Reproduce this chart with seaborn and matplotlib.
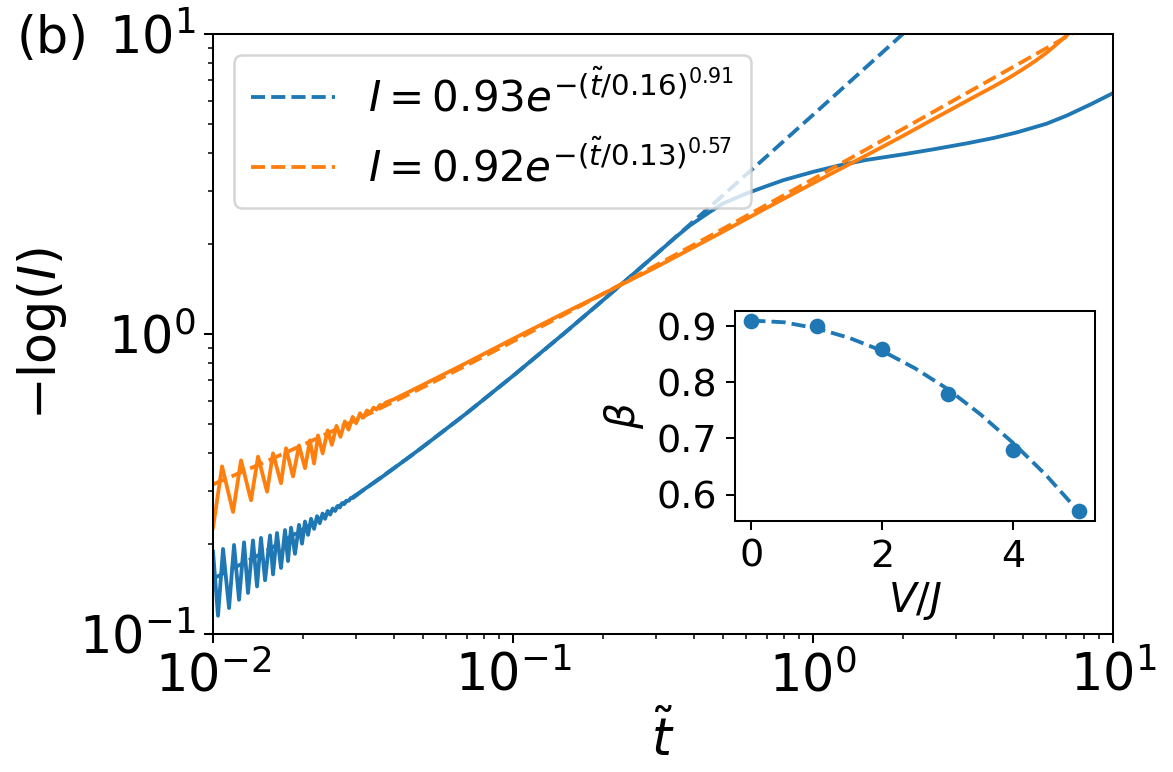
import matplotlib
matplotlib.use("Agg")
import matplotlib.pyplot as plt
import seaborn as sns

# ---------------- data ----------------
# solid curves: -log(I) vs t~
blue_t = [0.01000, 0.01039, 0.01080, 0.01131, 0.01175, 0.01221, 0.01269, 0.01308, 0.01359, 0.01402,
          0.01445, 0.01491, 0.01549, 0.01585, 0.01634, 0.01685, 0.01738, 0.01778, 0.01820, 0.01876,
          0.01935, 0.01980, 0.02026, 0.02074, 0.02122, 0.02172, 0.02222, 0.02269, 0.02318, 0.02363,
          0.02411, 0.02458, 0.02505, 0.02553, 0.02600, 0.02646, 0.02694, 0.02740, 0.02788, 0.02834,
          0.02882, 0.02928, 0.032, 0.035, 0.040, 0.050, 0.070, 0.100, 0.150, 0.200,
          0.300, 0.350, 0.389, 0.450, 0.500, 0.600, 0.700, 0.800, 1.00, 1.23,
          1.50, 2.00, 2.50, 3.26, 4.00, 4.79, 6.00, 7.03, 8.50, 10.0]
blue_y = [0.188, 0.115, 0.192, 0.122, 0.198, 0.130, 0.202, 0.137, 0.205, 0.144,
          0.209, 0.151, 0.213, 0.158, 0.217, 0.166, 0.222, 0.175, 0.226, 0.185,
          0.231, 0.200, 0.237, 0.214, 0.242, 0.224, 0.247, 0.234, 0.252, 0.242,
          0.257, 0.250, 0.262, 0.257, 0.267, 0.264, 0.273, 0.271, 0.278, 0.278,
          0.284, 0.284, 0.304, 0.323, 0.356, 0.420, 0.544, 0.725, 1.016, 1.298,
          1.844, 2.11, 2.30, 2.54, 2.72, 2.94, 3.11, 3.26, 3.47, 3.65,
          3.80, 3.97, 4.12, 4.32, 4.50, 4.70, 5.02, 5.35, 5.85, 6.35]

orange_t = [0.01000, 0.01072, 0.01166, 0.01240, 0.01339, 0.01413, 0.01514, 0.01585, 0.01685, 0.01751,
            0.01848, 0.01935, 0.02026, 0.02104, 0.02172, 0.02239, 0.0232, 0.0241, 0.0249, 0.0258,
            0.0266, 0.0275, 0.0283, 0.0292, 0.0300, 0.0309, 0.0317, 0.0326, 0.0334, 0.0343,
            0.0351, 0.0360, 0.0368, 0.0377, 0.040, 0.050, 0.070, 0.100, 0.150, 0.200,
            0.300, 0.500, 0.700, 1.00, 1.50, 2.00, 2.50, 3.00, 3.50, 4.00,
            4.50, 5.00, 5.50, 6.00, 6.50, 7.00, 7.40]
orange_y = [0.226, 0.362, 0.255, 0.379, 0.279, 0.390, 0.298, 0.400, 0.318, 0.416,
            0.335, 0.425, 0.357, 0.442, 0.370, 0.459, 0.400, 0.477, 0.427, 0.494,
            0.454, 0.511, 0.480, 0.529, 0.504, 0.544, 0.526, 0.556, 0.544, 0.568,
            0.560, 0.580, 0.577, 0.591, 0.605, 0.676, 0.801, 0.963, 1.182, 1.362,
            1.67, 2.19, 2.63, 3.18, 3.93, 4.58, 5.18, 5.72, 6.22, 6.68,
            7.14, 7.62, 8.12, 8.65, 9.25, 9.88, 10.45]

# dashed fit curves
bfit_t = [0.01, 0.0147, 0.0215, 0.0316, 0.0464, 0.0681, 0.1, 0.147, 0.215, 0.316,
          0.464, 0.681, 1.0, 1.47, 2.0, 2.15]
bfit_y = [0.1528, 0.1865, 0.2336, 0.3011, 0.3968, 0.5322, 0.7246, 0.9984, 1.381, 1.930,
          2.708, 3.809, 5.373, 7.598, 10.03, 10.71]
ofit_t = [0.01, 0.0147, 0.0215, 0.0316, 0.0464, 0.0681, 0.1, 0.147, 0.215, 0.316,
          0.464, 0.681, 1.0, 1.47, 2.15, 3.16, 4.64, 6.81, 7.6]
ofit_y = [0.3152, 0.3721, 0.4419, 0.5299, 0.6393, 0.7751, 0.9445, 1.156, 1.4155, 1.7425,
          2.1486, 2.653, 3.2828, 4.068, 5.033, 6.248, 7.756, 9.632, 10.25]

legend_labels = [r'$I=0.93e^{-(\tilde{t}/0.16)^{0.91}}$',
                 r'$I=0.92e^{-(\tilde{t}/0.13)^{0.57}}$']

# inset: beta vs V/J
inset_V = [0, 1, 2, 3, 4, 5]
inset_beta = [0.91, 0.90, 0.86, 0.78, 0.68, 0.57]
inset_fit_V = [0, 0.5, 1, 1.5, 2, 2.5, 3, 3.5, 4, 4.5, 5]
inset_fit_beta = [0.910, 0.907, 0.896, 0.879, 0.856, 0.825, 0.788, 0.743, 0.692, 0.635, 0.570]

# ---------------- plotting ----------------
C0, C1 = '#1f77b4', '#ff7f0e'
DPI = 183
fig = plt.figure(figsize=(1173 / DPI, 772 / DPI), dpi=DPI)
ax = fig.add_axes([0.1816, 0.1788, 0.7672, 0.7772])
ax.set_xscale('log')
ax.set_yscale('log')

sns.lineplot(x=blue_t, y=blue_y, ax=ax, color=C0, lw=1.5, sort=False, estimator=None)
sns.lineplot(x=bfit_t, y=bfit_y, ax=ax, color=C0, lw=1.5, ls='--', sort=False, estimator=None)
sns.lineplot(x=orange_t, y=orange_y, ax=ax, color=C1, lw=1.5, sort=False, estimator=None)
sns.lineplot(x=ofit_t, y=ofit_y, ax=ax, color=C1, lw=1.5, ls='--', sort=False, estimator=None)

ax.set_xlim(1e-2, 1e1)
ax.set_ylim(1e-1, 1e1)
ax.tick_params(labelsize=20)
ax.set_xlabel(r'$\tilde{t}$', fontsize=20)
ax.set_ylabel(r'$-\log(I)$', fontsize=20)

lines = ax.get_lines()
ax.legend(handles=[lines[1], lines[3]], labels=legend_labels, loc='upper left', fontsize=16.5)

fig.text(0.014, 0.931, '(b)', fontsize=20, va='baseline')

# inset
ax2 = fig.add_axes([0.6266, 0.3251, 0.3069, 0.2720])
sns.lineplot(x=inset_fit_V, y=inset_fit_beta, ax=ax2, color=C0, lw=1.5, ls='--', sort=False, estimator=None)
sns.scatterplot(x=inset_V, y=inset_beta, ax=ax2, color=C0, s=38, linewidth=0, zorder=3)
ax2.set_xlim(-0.25, 5.25)
ax2.set_ylim(0.553, 0.927)
ax2.set_xticks([0, 2, 4])
ax2.set_yticks([0.6, 0.7, 0.8, 0.9])
ax2.tick_params(labelsize=15)
ax2.set_xlabel(r'$V/J$', fontsize=16, labelpad=2)
ax2.set_ylabel(r'$\beta$', fontsize=16)

fig.savefig('out.png', dpi=DPI)
